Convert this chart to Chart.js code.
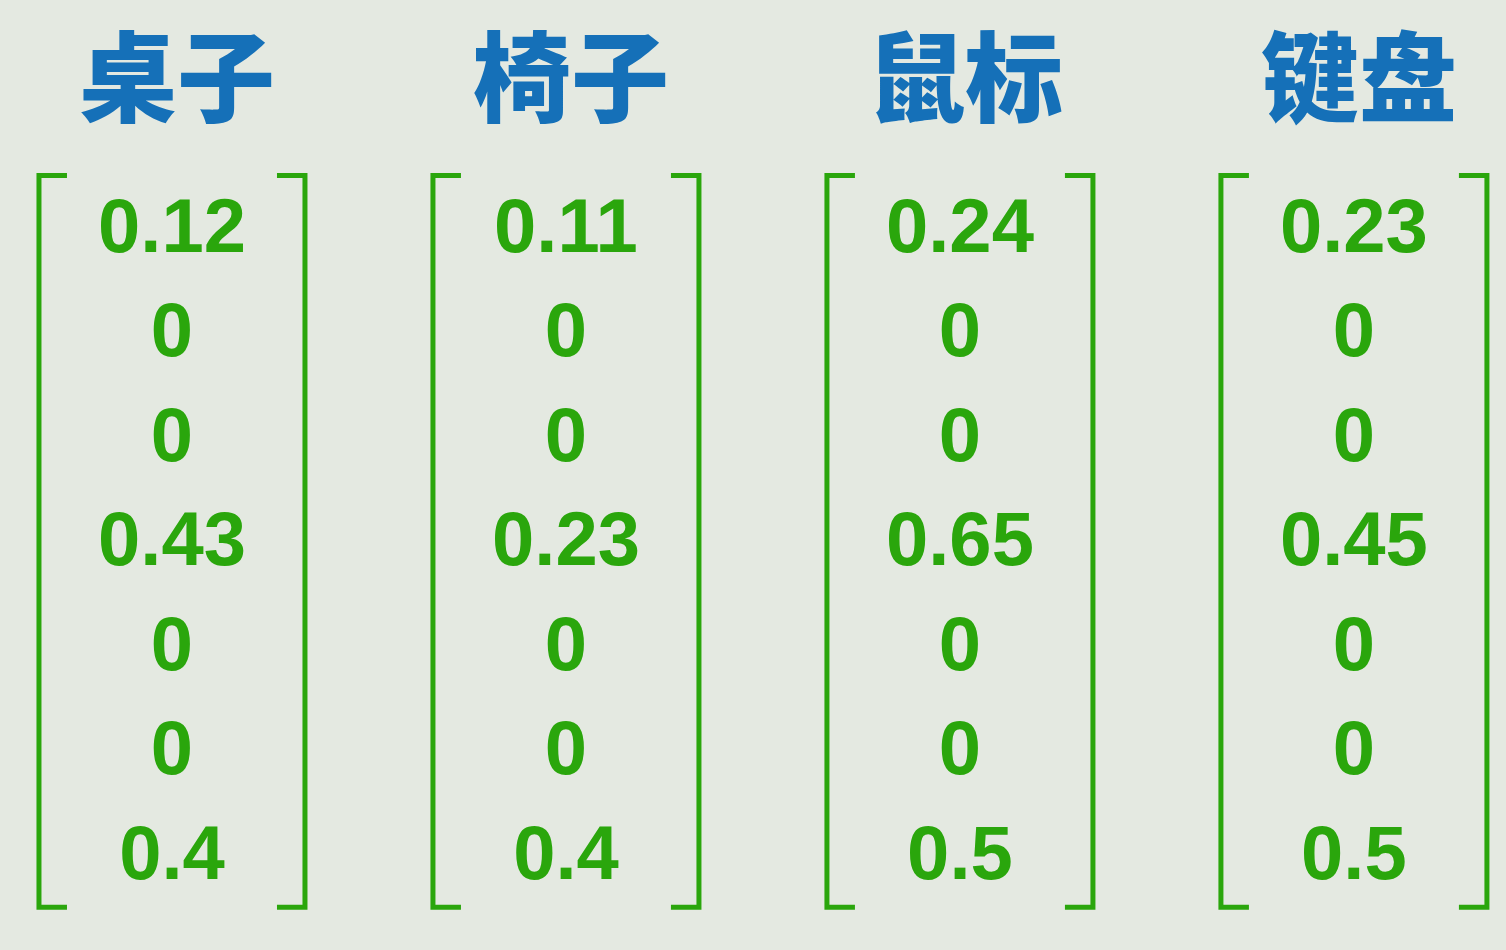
<!DOCTYPE html>
<html>
<head>
<meta charset="utf-8">
<script src="https://cdn.jsdelivr.net/npm/chart.js@4"></script>
<style>
  html, body { margin: 0; padding: 0; background: #e4e9e1; }
  #wrap { width: 1506px; height: 950px; }
</style>
</head>
<body>
<div id="wrap"><canvas id="myChart"></canvas></div>
<script>
"use strict";

const categories = ['桌子', '椅子', '鼠标', '键盘'];
const deskValues = [0.12, 0, 0, 0.43, 0, 0, 0.4];
const chairValues = [0.11, 0, 0, 0.23, 0, 0, 0.4];
const mouseValues = [0.24, 0, 0, 0.65, 0, 0, 0.5];
const keyboardValues = [0.23, 0, 0, 0.45, 0, 0, 0.5];
const columns = [deskValues, chairValues, mouseValues, keyboardValues];

const blue = '#1570b8';
const green = '#2aa60c';

// one dataset per column, each value sits at (column, row)
const datasets = columns.map((vals, c) => ({
    label: categories[c],
    data: vals.map((v, r) => ({ x: c, y: r, v: v })),
    pointRadius: 0
}));

const matrixText = {
    id: 'matrixText',
    afterDatasetsDraw(chart) {
        const g = chart.ctx;
        const xs = chart.scales.x, ys = chart.scales.y;
        g.save();
        g.textAlign = 'center';
        g.textBaseline = 'middle';
        chart.data.datasets.forEach((ds, c) => {
            const cx = xs.getPixelForValue(c);
            // title
            g.fillStyle = blue;
            g.font = '900 98px "Noto Sans CJK SC"';
            g.fillText(ds.label, cx + 5, ys.getPixelForValue(-1.45));
            // values
            g.fillStyle = green;
            g.font = 'bold 76px "Liberation Sans"';
            ds.data.forEach(p => {
                g.fillText(String(p.v), xs.getPixelForValue(p.x), ys.getPixelForValue(p.y) + 3);
            });
            // brackets
            const top = ys.getPixelForValue(-0.5);
            const bot = ys.getPixelForValue(6.5);
            const half = 133, tick = 28;
            g.strokeStyle = green;
            g.lineWidth = 5;
            g.beginPath();
            g.moveTo(cx - half + tick, top);
            g.lineTo(cx - half, top);
            g.lineTo(cx - half, bot);
            g.lineTo(cx - half + tick, bot);
            g.moveTo(cx + half - tick, top);
            g.lineTo(cx + half, top);
            g.lineTo(cx + half, bot);
            g.lineTo(cx + half - tick, bot);
            g.stroke();
        });
        g.restore();
    }
};

new Chart(document.getElementById('myChart'), {
    type: 'scatter',
    data: { datasets: datasets },
    options: {
        responsive: true,
        maintainAspectRatio: false,
        animation: false,
        layout: { padding: 0 },
        plugins: { legend: { display: false }, tooltip: { enabled: false } },
        scales: {
            x: { type: 'linear', min: -0.4365, max: 3.386, display: false },
            y: { type: 'linear', min: -2.18, max: 6.91, reverse: true, display: false }
        }
    },
    plugins: [matrixText]
});
</script>
</body>
</html>
